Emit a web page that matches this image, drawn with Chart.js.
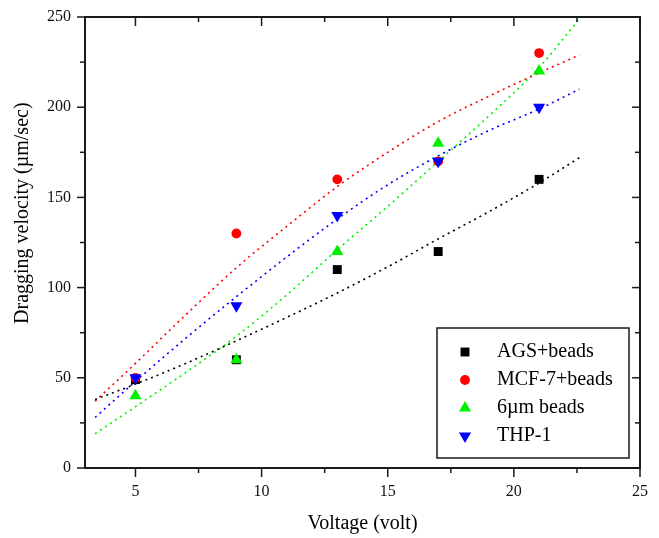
<!DOCTYPE html>
<html>
<head>
<meta charset="utf-8">
<script src="https://cdn.jsdelivr.net/npm/chart.js@4.4.0/dist/chart.umd.min.js"></script>
<style>
  html, body { margin: 0; padding: 0; background: #fff; }
</style>
</head>
<body>
<canvas id="chart" width="659" height="538"></canvas>
<script>
// measured voltages (volt)
const voltages = [5, 9, 13, 17, 21];

// dragging velocity (µm/sec) for each sample type
const agsBeads = [49, 60, 110, 120, 160];
const mcf7Beads = [50, 130, 160, 170, 230];
const plainBeads = [40, 60, 120, 180, 220];
const thp1 = [50, 90, 140, 170, 200];

// fitted curves
const fitVoltages = [3.4, 5, 7, 9, 11, 13, 15, 17, 19, 21, 22.6];
const agsFit = [38, 46.5, 58, 70.5, 83.5, 97, 111.5, 127, 142, 158, 172];
const mcf7Fit = [37, 58, 85, 111, 134, 156, 175, 192, 206, 219, 229];
const plainFit = [19, 34, 53, 73, 96, 121, 145, 170, 195, 222, 249];
const thp1Fit = [28, 48, 72, 95, 117, 138, 157, 173, 187, 199, 210];

const seriesNames = ['AGS+beads', 'MCF-7+beads', '6µm beads', 'THP-1'];

// axis ticks
const xMajor = [5, 10, 15, 20, 25];
const xMinor = [7.5, 12.5, 17.5, 22.5];
const yMajor = [0, 50, 100, 150, 200, 250];
const yMinor = [25, 75, 125, 175, 225];

const seriesValues = [agsBeads, mcf7Beads, plainBeads, thp1];
const fitValues = [agsFit, mcf7Fit, plainFit, thp1Fit];
const colors = ['#000000', '#ff0000', '#00f000', '#0000ff'];
const markers = [
  { shape: 'rect', rotation: 0, radius: 6.3 },
  { shape: 'circle', rotation: 0, radius: 4.9 },
  { shape: 'triangle', rotation: 0, radius: 7 },
  { shape: 'triangle', rotation: 180, radius: 7 }
];
const serif = '"Liberation Serif", "Times New Roman", serif';

const pointSets = seriesNames.map((name, i) => ({
  type: 'scatter',
  label: name,
  data: voltages.map((v, k) => ({ x: v, y: seriesValues[i][k] })),
  pointStyle: markers[i].shape,
  rotation: markers[i].rotation,
  pointRadius: markers[i].radius,
  backgroundColor: colors[i],
  borderColor: colors[i],
  borderWidth: 0,
  order: 4 - i
}));

const fitSets = seriesNames.map((name, i) => ({
  type: 'line',
  label: name + ' fit',
  data: fitVoltages.map((v, k) => ({ x: v, y: fitValues[i][k] })),
  borderColor: colors[i],
  borderWidth: 1.6,
  borderDash: [2, 4],
  pointRadius: 0,
  fill: false,
  cubicInterpolationMode: 'monotone',
  order: 10 + i
}));

// frame with Origin-style ticks, axis titles and the boxed legend
const framePlugin = {
  id: 'frame',
  afterDatasetsDraw(chart) {
    const { ctx, chartArea: a, scales: { x, y } } = chart;
    ctx.save();
    ctx.strokeStyle = '#1a1a1a';
    ctx.lineWidth = 2;
    ctx.strokeRect(a.left, a.top, a.right - a.left, a.bottom - a.top);

    ctx.lineWidth = 1.5;
    const seg = (x1, y1, x2, y2) => {
      ctx.beginPath();
      ctx.moveTo(x1, y1);
      ctx.lineTo(x2, y2);
      ctx.stroke();
    };
    const xTick = (v, len) => {
      const px = x.getPixelForValue(v);
      seg(px, a.bottom, px, a.bottom + len);
      seg(px, a.top, px, a.top + len);
    };
    const yTick = (v, len) => {
      const py = y.getPixelForValue(v);
      seg(a.left - len, py, a.left, py);
      seg(a.right - len, py, a.right, py);
    };
    xMajor.forEach(v => xTick(v, 9));
    xMinor.forEach(v => xTick(v, 5));
    yMajor.forEach(v => yTick(v, 8));
    yMinor.forEach(v => yTick(v, 5));

    // axis titles
    ctx.fillStyle = '#000';
    ctx.font = '20px ' + serif;
    ctx.textAlign = 'center';
    ctx.textBaseline = 'alphabetic';
    ctx.fillText('Voltage (volt)', (a.left + a.right) / 2, chart.height - 9);
    ctx.save();
    ctx.translate(28, a.top + (a.bottom - a.top) * 0.435);
    ctx.rotate(-Math.PI / 2);
    ctx.fillText('Dragging velocity (µm/sec)', 0, 0);
    ctx.restore();

    // legend box
    const boxW = 192, boxH = 130;
    const bx = a.right - 11 - boxW;
    const by = a.bottom - 10 - boxH;
    ctx.fillStyle = '#fff';
    ctx.fillRect(bx, by, boxW, boxH);
    ctx.strokeStyle = '#1a1a1a';
    ctx.lineWidth = 1.5;
    ctx.strokeRect(bx, by, boxW, boxH);
    ctx.textAlign = 'left';
    ctx.textBaseline = 'middle';
    seriesNames.forEach((name, i) => {
      const ry = by + 24 + i * 28;
      ctx.fillStyle = colors[i];
      ctx.strokeStyle = colors[i];
      Chart.helpers.drawPoint(ctx, {
        pointStyle: markers[i].shape,
        rotation: markers[i].rotation,
        radius: markers[i].radius,
        borderWidth: 0
      }, bx + 28, ry);
      ctx.fillStyle = '#000';
      ctx.fillText(name, bx + 60, ry);
    });
    ctx.restore();
  }
};

const tickFont = { family: serif, size: 16 };

// keep the plot box fixed: no extra margins for overhanging tick labels
const noMargins = s => {
  s.paddingTop = 0;
  s.paddingBottom = 0;
  s.paddingLeft = 0;
  s.paddingRight = 0;
};

new Chart(document.getElementById('chart'), {
  type: 'scatter',
  data: { datasets: [...pointSets, ...fitSets] },
  options: {
    responsive: false,
    devicePixelRatio: 1,
    animation: false,
    events: [],
    layout: { padding: { top: 17, right: 19, left: 0, bottom: 0 } },
    plugins: {
      legend: { display: false },
      tooltip: { enabled: false }
    },
    scales: {
      x: {
        type: 'linear',
        min: 3,
        max: 25,
        afterBuildTicks: s => { s.ticks = xMajor.map(v => ({ value: v })); },
        afterFit: s => { s.height = 70; noMargins(s); },
        grid: { display: false, drawTicks: false },
        border: { display: false },
        ticks: { padding: 14, color: '#111', font: tickFont }
      },
      y: {
        type: 'linear',
        min: 0,
        max: 250,
        afterBuildTicks: s => { s.ticks = yMajor.map(v => ({ value: v })); },
        afterFit: s => { s.width = 85; noMargins(s); },
        grid: { display: false, drawTicks: false },
        border: { display: false },
        ticks: { padding: 14, color: '#111', font: tickFont }
      }
    }
  },
  plugins: [framePlugin]
});
</script>
</body>
</html>
